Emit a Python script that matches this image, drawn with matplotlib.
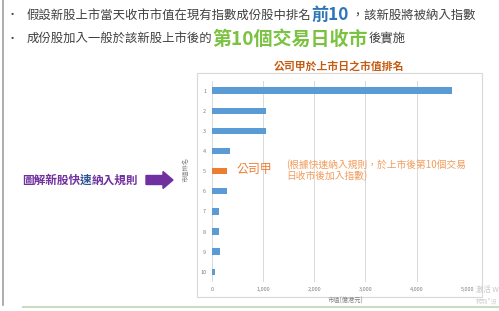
import matplotlib.pyplot as plt
from matplotlib.patches import Rectangle, FancyArrow

plt.rcParams['font.family'] = ['Noto Sans CJK TC', 'DejaVu Sans']

# data
ranks = [1, 2, 3, 4, 5, 6, 7, 8, 9, 10]
market_cap = [4685, 1065, 1050, 350, 290, 295, 145, 140, 155, 55]
highlight_rank = 5
x_ticks = [0, 1000, 2000, 3000, 4000, 5000]
x_tick_labels = ['0', '1,000', '2,000', '3,000', '4,000', '5,000']

W, H = 499, 311
fig = plt.figure(figsize=(W / 100, H / 100), dpi=100)
fig.patch.set_facecolor('white')


def px(x, y):
    return x / W, 1 - y / H


def chain(parts, x0, y0):
    # draw a row of text pieces one after another
    r = fig.canvas.get_renderer()
    x = x0 / W
    for txt, kw in parts:
        t = fig.text(x, 1 - y0 / H, txt, va='center', ha='left', **kw)
        bb = t.get_window_extent(renderer=r)
        x = bb.x1 / fig.bbox.width


# slide frame bits
fig.add_artist(plt.Line2D([2.5 / W, 2.5 / W], [1, 1 - 305 / H], color='#a0a0a0', lw=1.2))
fig.add_artist(plt.Line2D([23 / W, 1], [1 - 307 / H] * 2, color='#c9dcc0', lw=1.5))

# header bullets
grey = '#404040'
fig.text(*px(12, 15), '•', fontsize=8, color=grey, va='center', ha='center')
fig.text(*px(12, 39), '•', fontsize=8, color=grey, va='center', ha='center')
chain([('假設新股上市當天收市市值在現有指數成份股中排名', dict(fontsize=8.9, color=grey)),
       ('前10', dict(fontsize=12.3, color='#2e75b6', fontweight='bold')),
       (' ，該新股將被納入指數', dict(fontsize=8.9, color=grey))], 27, 15)
chain([('成份股加入一般於該新股上市後的', dict(fontsize=8.9, color=grey)),
       ('第10個交易日收市', dict(fontsize=13.7, color='#7cc242', fontweight='bold')),
       ('後實施', dict(fontsize=8.9, color=grey))], 27, 39)

# left caption + arrow
chain([('圖解新股快', dict(fontsize=8.4, color='#7030a0', fontweight='bold')),
       ('速', dict(fontsize=8.4, color='#2f5597', fontweight='bold')),
       ('納入規則', dict(fontsize=8.4, color='#7030a0', fontweight='bold'))], 22, 180)
fig.add_artist(FancyArrow(146 / W, 1 - 180 / H, 27 / W, 0, width=9 / H,
                          head_width=17 / H, head_length=10 / W,
                          length_includes_head=True, color='#7030a0',
                          transform=fig.transFigure))

# chart area border
fig.add_artist(Rectangle(px(197, 297), 285 / W, 224 / H, fill=False,
                         edgecolor='#d9d9d9', lw=0.8, transform=fig.transFigure))
fig.text(*px(339, 66), '公司甲於上市日之市值排名', fontsize=7.8, fontweight='bold',
         color='#c55a11', ha='center', va='center')

ax = fig.add_axes([211.8 / W, 1 - 281.8 / H, 256 / W, 201.2 / H])
colors = ['#ed7d31' if r == highlight_rank else '#5b9bd5' for r in ranks]
ax.barh(ranks, market_cap, height=0.32, color=colors, zorder=3)
ax.set_ylim(10.5, 0.5)
ax.set_xlim(0, 5000)
ax.set_yticks(ranks)
ax.set_yticklabels([str(r) for r in ranks])
ax.set_xticks(x_ticks)
ax.set_xticklabels(x_tick_labels)
ax.tick_params(length=0, labelsize=4, labelcolor='#808080', pad=4)
ax.grid(axis='x', color='#d9d9d9', lw=0.7, zorder=0)
for s in ax.spines.values():
    s.set_visible(False)

fig.text(*px(186, 170), '市值排名', fontsize=4.5, color='#808080', rotation=90,
         ha='center', va='center')
fig.text(*px(346, 301), '市值(億港元)', fontsize=4.5, color='#808080',
         ha='center', va='center')

# annotation for company A
fig.text(*px(237, 170), '公司甲', fontsize=8.6, color='#ed7d31', ha='left', va='center')
fig.text(*px(286, 165), '(根據快速納入規則，於上市後第10個交易', fontsize=7.0,
         color='#f19c5c', ha='left', va='center')
fig.text(*px(286, 176), '日收市後加入指數)', fontsize=7.0,
         color='#f19c5c', ha='left', va='center')

# faint watermark (cut off at the slide edge, as in the screenshot)
fig.text(*px(476, 290), '激活 W', fontsize=5.3, color='#c8c8c8', ha='left',
         va='center', family=['Noto Sans CJK SC', 'DejaVu Sans'])
fig.text(*px(476, 301), '转到"设', fontsize=4.5, color='#d0d0d0',
         ha='left', va='center', family=['Noto Sans CJK SC', 'DejaVu Sans'])

fig.savefig('out.png', dpi=100)
